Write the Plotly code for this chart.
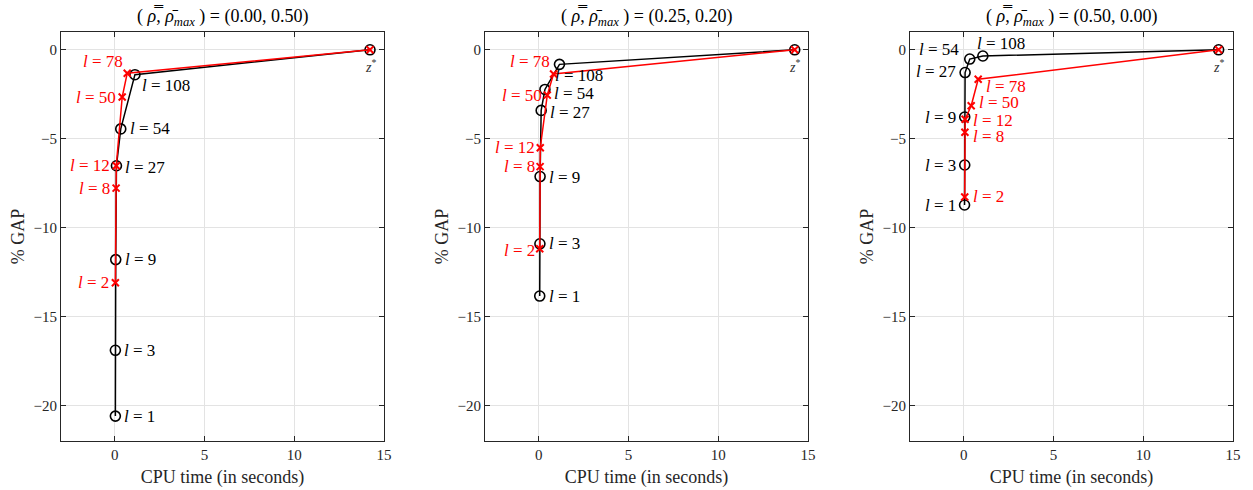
import plotly.graph_objects as go

# ---------------- data ----------------
titles = ["(0.00, 0.50)", "(0.25, 0.20)", "(0.50, 0.00)"]

black_l = [1, 3, 9, 27, 54, 108]
red_l = [2, 8, 12, 50, 78]

# panel 1
p1_black_x = [0.03, 0.03, 0.05, 0.09, 0.33, 1.12, 14.22]
p1_black_y = [-20.6, -16.9, -11.8, -6.52, -4.45, -1.40, 0.0]
p1_red_x = [0.03, 0.07, 0.08, 0.41, 0.69, 14.22]
p1_red_y = [-13.1, -7.78, -6.52, -2.66, -1.32, 0.0]

# panel 2
p2_black_x = [0.05, 0.06, 0.07, 0.13, 0.34, 1.15, 14.26]
p2_black_y = [-13.85, -10.91, -7.13, -3.41, -2.23, -0.82, 0.0]
p2_red_x = [0.05, 0.07, 0.08, 0.47, 0.82, 14.26]
p2_red_y = [-11.19, -6.57, -5.51, -2.55, -1.36, 0.0]

# panel 3
p3_black_x = [0.04, 0.05, 0.05, 0.07, 0.33, 1.06, 14.2]
p3_black_y = [-8.73, -6.48, -3.78, -1.28, -0.52, -0.35, 0.0]
p3_red_x = [0.05, 0.06, 0.07, 0.41, 0.80, 14.2]
p3_red_y = [-8.28, -4.64, -3.91, -3.15, -1.66, 0.0]

x_ticks = [0, 5, 10, 15]
y_ticks = [-20, -15, -10, -5, 0]

panels = [
    (p1_black_x, p1_black_y, p1_red_x, p1_red_y),
    (p2_black_x, p2_black_y, p2_red_x, p2_red_y),
    (p3_black_x, p3_black_y, p3_red_x, p3_red_y),
]

# label placement styles: (xanchor, xshift, yshift) per point
black_label_style = [
    [("left", 7, 0), ("left", 7, 0), ("left", 7, 0), ("left", 7, -2), ("left", 7, 0), ("left", 5, -11)],
    [("left", 7, 0), ("left", 7, 0), ("left", 7, -1), ("left", 7, -2), ("left", 7, -4), ("left", -6, -11)],
    [("right", -7, 0), ("right", -7, 0), ("right", -7, 0), ("right", -7, 1), ("right", -9, 10), ("left", -8, 13)],
]
red_label_style = [
    [("right", -4, 0), ("right", -4, 0), ("right", -4, 0), ("right", -4, 0), ("right", -2, 12)],
    [("right", -3, -2), ("right", -3, 0), ("right", -3, 0), ("right", -3, 0), ("right", -2, 12)],
    [("left", 6, 1), ("left", 6, -4), ("left", 6, -1), ("left", 6, 3), ("left", 6, -7)],
]

FONT = "Liberation Serif, DejaVu Serif, serif"
domains = [[61 / 1253, 384 / 1253], [485 / 1253, 808 / 1253], [910 / 1253, 1233 / 1253]]
ydom = [1 - 441 / 490, 1 - 32 / 490]

fig = go.Figure()
annotations = []

for i, (bx, by, rx, ry) in enumerate(panels):
    xa = "x" if i == 0 else f"x{i+1}"
    ya = "y" if i == 0 else f"y{i+1}"
    fig.add_trace(go.Scatter(
        x=bx, y=by, xaxis=xa, yaxis=ya, mode="lines+markers",
        line=dict(color="black", width=1.5),
        marker=dict(symbol="circle-open", size=10, color="black", line=dict(width=1.6)),
        showlegend=False, hoverinfo="x+y"))
    fig.add_trace(go.Scatter(
        x=rx, y=ry, xaxis=xa, yaxis=ya, mode="lines+markers",
        line=dict(color="red", width=1.5),
        marker=dict(symbol="x-thin-open", size=7, color="red", line=dict(width=2, color="red")),
        showlegend=False, hoverinfo="x+y"))

    for j, l in enumerate(black_l):
        anc, xs, ys = black_label_style[i][j]
        annotations.append(dict(
            x=bx[j], y=by[j], xref=xa, yref=ya, text=f"<i>l</i> = {l}", showarrow=False,
            xanchor=anc, yanchor="middle", xshift=xs, yshift=ys,
            font=dict(family=FONT, size=17, color="black")))
    for j, l in enumerate(red_l):
        anc, xs, ys = red_label_style[i][j]
        annotations.append(dict(
            x=rx[j], y=ry[j], xref=xa, yref=ya, text=f"<i>l</i> = {l}", showarrow=False,
            xanchor=anc, yanchor="middle", xshift=xs, yshift=ys,
            font=dict(family=FONT, size=17, color="red")))
    annotations.append(dict(
        x=bx[-1], y=by[-1], xref=xa, yref=ya, text="<i>z</i><sup>*</sup>", showarrow=False,
        xanchor="center", yanchor="top", yshift=-5,
        font=dict(family=FONT, size=14, color="#333333")))
    annotations.append(dict(
        x=(domains[i][0] + domains[i][1]) / 2, y=ydom[1], xref="paper", yref="paper",
        text=f"( <i>ρ̿</i>, <i>ρ̄</i><sub><i>max</i></sub> ) = {titles[i]}", showarrow=False,
        xanchor="center", yanchor="bottom", yshift=1,
        font=dict(family=FONT, size=18, color="black")))

    axis_common = dict(
        showline=True, linecolor="#262626", linewidth=1, mirror="ticks",
        ticks="inside", ticklen=5, tickcolor="#262626",
        showgrid=True, gridcolor="#e3e3e3", gridwidth=1, zeroline=False,
        tickfont=dict(family=FONT, size=15, color="#262626"))
    fig.update_layout(**{
        ("xaxis" if i == 0 else f"xaxis{i+1}"): dict(
            axis_common, domain=domains[i], range=[-3, 15], tickvals=x_ticks,
            anchor=ya,
            title=dict(text="CPU time (in seconds)", font=dict(family=FONT, size=18, color="#262626"), standoff=8)),
        ("yaxis" if i == 0 else f"yaxis{i+1}"): dict(
            axis_common, domain=ydom, range=[-22, 1], tickvals=y_ticks,
            anchor=xa,
            title=dict(text="% GAP", font=dict(family=FONT, size=18, color="#262626"), standoff=4)),
    })

fig.update_layout(
    width=1253, height=490,
    margin=dict(l=0, r=0, t=0, b=0, autoexpand=False),
    paper_bgcolor="white", plot_bgcolor="white",
    annotations=annotations,
)

fig.write_html("out.html", config={"displayModeBar": False},
               post_script="document.body.style.margin='0';")
